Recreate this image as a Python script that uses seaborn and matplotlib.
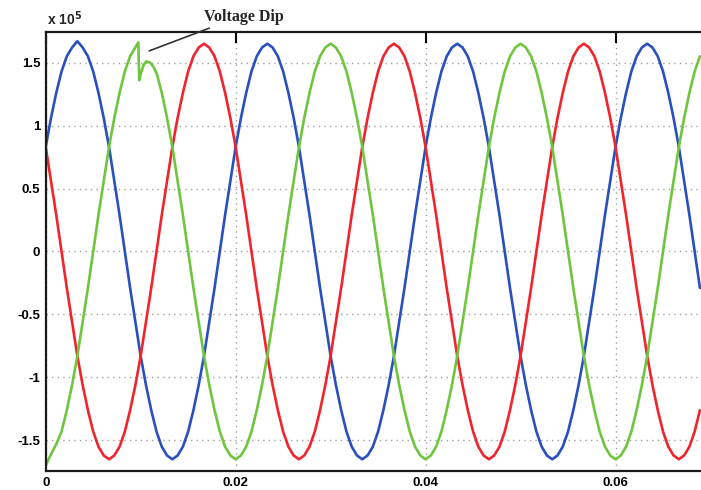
import numpy as np
import pandas as pd
import matplotlib
matplotlib.use("Agg")
import matplotlib.pyplot as plt
import seaborn as sns
from matplotlib.ticker import FuncFormatter

# ---- data (values in units of 1e5) ----
sample_rate = 1800.0  # samples per second (one sample every 10 degrees at 50 Hz)

phase_blue = [
    0.83, 1.06, 1.26, 1.43, 1.55, 1.62, 1.67, 1.62, 1.55, 1.43, 1.26, 1.06, 0.83, 0.56, 0.29, 0,
    -0.29, -0.56, -0.83, -1.06, -1.26, -1.43, -1.55, -1.62, -1.65, -1.62, -1.55, -1.43, -1.26, -1.06, -0.83, -0.56, -0.29,
    0, 0.29, 0.56, 0.83, 1.06, 1.26, 1.43, 1.55, 1.62, 1.65, 1.62, 1.55, 1.43, 1.26, 1.06, 0.83, 0.56, 0.29,
    0, -0.29, -0.56, -0.83, -1.06, -1.26, -1.43, -1.55, -1.62, -1.65, -1.62, -1.55, -1.43, -1.26, -1.06, -0.83, -0.56, -0.29,
    0, 0.29, 0.56, 0.83, 1.06, 1.26, 1.43, 1.55, 1.62, 1.65, 1.62, 1.55, 1.43, 1.26, 1.06, 0.83, 0.56, 0.29,
    0, -0.29, -0.56, -0.83, -1.06, -1.26, -1.43, -1.55, -1.62, -1.65, -1.62, -1.55, -1.43, -1.26, -1.06, -0.83, -0.56, -0.29,
    0, 0.29, 0.56, 0.83, 1.06, 1.26, 1.43, 1.55, 1.62, 1.65, 1.62, 1.55, 1.43, 1.26, 1.06, 0.83, 0.56, 0.29,
    0, -0.29,
]

phase_red = [
    0.83, 0.56, 0.29, 0, -0.29, -0.56, -0.83, -1.06, -1.26, -1.43, -1.55, -1.62, -1.65, -1.62, -1.55, -1.43,
    -1.26, -1.06, -0.83, -0.56, -0.29,
    0, 0.29, 0.56, 0.83, 1.06, 1.26, 1.43, 1.55, 1.62, 1.65, 1.62, 1.55, 1.43, 1.26, 1.06, 0.83, 0.56, 0.29,
    0, -0.29, -0.56, -0.83, -1.06, -1.26, -1.43, -1.55, -1.62, -1.65, -1.62, -1.55, -1.43, -1.26, -1.06, -0.83, -0.56, -0.29,
    0, 0.29, 0.56, 0.83, 1.06, 1.26, 1.43, 1.55, 1.62, 1.65, 1.62, 1.55, 1.43, 1.26, 1.06, 0.83, 0.56, 0.29,
    0, -0.29, -0.56, -0.83, -1.06, -1.26, -1.43, -1.55, -1.62, -1.65, -1.62, -1.55, -1.43, -1.26, -1.06, -0.83, -0.56, -0.29,
    0, 0.29, 0.56, 0.83, 1.06, 1.26, 1.43, 1.55, 1.62, 1.65, 1.62, 1.55, 1.43, 1.26, 1.06, 0.83, 0.56, 0.29,
    0, -0.29, -0.56, -0.83, -1.06, -1.26, -1.43, -1.55, -1.62, -1.65, -1.62, -1.55, -1.43, -1.26,
]

phase_green = [
    -1.70, -1.61, -1.53, -1.43, -1.26, -1.06, -0.83, -0.56, -0.29,
    0, 0.29, 0.56, 0.83, 1.06, 1.26, 1.43, 1.55, 1.62, 1.65, 1.62, 1.55, 1.43, 1.26, 1.06, 0.83, 0.56, 0.29,
    0, -0.29, -0.56, -0.83, -1.06, -1.26, -1.43, -1.55, -1.62, -1.65, -1.62, -1.55, -1.43, -1.26, -1.06, -0.83, -0.56, -0.29,
    0, 0.29, 0.56, 0.83, 1.06, 1.26, 1.43, 1.55, 1.62, 1.65, 1.62, 1.55, 1.43, 1.26, 1.06, 0.83, 0.56, 0.29,
    0, -0.29, -0.56, -0.83, -1.06, -1.26, -1.43, -1.55, -1.62, -1.65, -1.62, -1.55, -1.43, -1.26, -1.06, -0.83, -0.56, -0.29,
    0, 0.29, 0.56, 0.83, 1.06, 1.26, 1.43, 1.55, 1.62, 1.65, 1.62, 1.55, 1.43, 1.26, 1.06, 0.83, 0.56, 0.29,
    0, -0.29, -0.56, -0.83, -1.06, -1.26, -1.43, -1.55, -1.62, -1.65, -1.62, -1.55, -1.43, -1.26, -1.06, -0.83, -0.56, -0.29,
    0, 0.29, 0.56, 0.83, 1.06, 1.26, 1.43, 1.55,
]

# voltage dip on the green phase (time in s, value in 1e5)
dip_time = [0.00975, 0.00985, 0.0100, 0.0103, 0.0106, 0.0110, 0.0114, 0.0117]
dip_value = [1.66, 1.36, 1.41, 1.48, 1.51, 1.50, 1.46, 1.41]

x_ticks = [0, 0.02, 0.04, 0.06]
y_ticks = [-1.5, -1, -0.5, 0, 0.5, 1, 1.5]

colors = {"blue": "#2a4fbf", "red": "#f0242c", "green": "#6fc63e"}

# ---- build tidy frame ----
t = np.arange(len(phase_blue)) / sample_rate
frames = [
    pd.DataFrame({"time": t, "value": phase_blue, "phase": "blue"}),
    pd.DataFrame({"time": t, "value": phase_red, "phase": "red"}),
]
g = pd.DataFrame({"time": t, "value": phase_green})
g = g[~((g["time"] >= dip_time[0]) & (g["time"] <= dip_time[-1]))]
g = pd.concat([g, pd.DataFrame({"time": dip_time, "value": dip_value})]).sort_values("time")
g["phase"] = "green"
frames.append(g)
df = pd.concat(frames, ignore_index=True)

# ---- plot ----
sns.set_style("white")
plt.rcParams["font.family"] = ["Liberation Sans", "DejaVu Sans"]
plt.rcParams["font.weight"] = "bold"

fig = plt.figure(figsize=(7.01, 4.90), dpi=100)
ax = fig.add_axes([0.0652, 0.0388, 0.9348, 0.8959])

sns.lineplot(data=df, x="time", y="value", hue="phase", hue_order=["blue", "red", "green"],
             palette=colors, estimator=None, sort=True, legend=False, linewidth=1.9, ax=ax)

ax.set_xlim(0, 0.0690)
ax.set_ylim(-1.743, 1.743)
ax.set_xticks(x_ticks)
ax.set_yticks(y_ticks)
fmt = FuncFormatter(lambda v, p: f"{v:g}")
ax.xaxis.set_major_formatter(fmt)
ax.yaxis.set_major_formatter(fmt)
ax.set_xlabel("")
ax.set_ylabel("")

ax.grid(True, linestyle=(0, (1, 3)), color="#a0a0a0", linewidth=1.0)
ax.tick_params(direction="in", length=8, width=1.5, top=True, right=False,
               labelsize=9.5, pad=4, colors="black")
for name, s in ax.spines.items():
    s.set_linewidth(1.6)
    s.set_color("#1a1a1a")
    s.set_visible(name != "right")

ax.text(0.002, 1.010, r"x 10$^{5}$", transform=ax.transAxes, ha="left", va="bottom",
        fontsize=10, fontweight="bold")

ax.annotate("Voltage Dip", xy=(0.0109, 1.593), xytext=(0.0209, 1.863),
            ha="center", va="center", fontsize=11.5, fontweight="bold",
            family=["Liberation Serif", "DejaVu Serif"], annotation_clip=False,
            arrowprops=dict(arrowstyle="-", color="#333333", lw=1.2,
                            shrinkA=0, shrinkB=0, relpos=(0.17, 0.0)))

fig.savefig("out.png", dpi=100)
